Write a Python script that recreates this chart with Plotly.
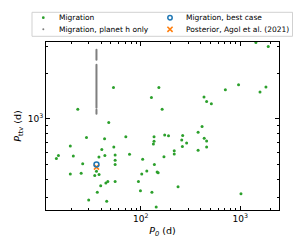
import plotly.graph_objects as go

# ---------------- data ----------------
P0_migration = [
    23.3, 53.2, 47.7, 128, 152, 164, 432, 459, 512, 708, 961, 1435, 1578, 1811, 1910,
    28.5, 43.3, 70.8, 19.6, 40.6, 53.6, 14.9, 14.2, 21.0, 38.0, 43.6, 55.3, 55.3, 77.1,
    26.1, 55.3, 19.6, 25.2, 34.5, 35.9, 38.1, 44.6, 46.7, 55.3, 39.6, 36.6, 30.0, 45.5,
    104.5, 136, 136, 134, 137, 174, 190, 171, 217, 217, 258, 264, 262, 289, 377, 413,
    434, 459, 459, 377, 102.3, 115, 146, 149.5, 94.8, 99.3, 129.5, 237, 143, 1016,
]
Pttv_migration = [
    1158, 1618, 949, 1390, 1618, 1158, 1399, 1308, 1262, 1563, 1687, 3214, 1510, 1629, 3027,
    755, 741, 764, 662, 627, 653, 572, 548, 569, 560, 572, 578, 532, 583,
    506, 500, 432, 437, 423, 450, 428, 376, 385, 385, 361, 327, 291, 285,
    540, 764, 711, 682, 500, 783, 773, 562, 616, 586, 726, 778, 656, 693, 818, 893,
    744, 715, 653, 621, 432, 453, 446, 441, 386, 334, 327, 355, 261, 320,
]

P0_h_only = 35.9
Pttv_h_only = [
    2876, 2833, 2791, 2749, 2707, 2666, 2626, 2586, 2547, 2508, 2470,
    2288, 2254, 2220, 2186, 2153, 2121, 2089, 2057, 2026, 1995, 1965, 1936, 1906,
    1877, 1849, 1821, 1793, 1766, 1740, 1713, 1688, 1662, 1637, 1612, 1588, 1563,
    1540, 1516, 1494, 1471, 1449, 1427, 1405, 1384, 1363, 1342, 1322, 1302, 1282,
    1263, 1244, 1225, 1206, 1188, 1152, 1135, 1118, 1101, 1084,
]

P0_best = [35.9]
Pttv_best = [500]
P0_agol = [35.9]
Pttv_agol = [480]

x_major = [100, 1000]
x_major_text = ["10<sup>2</sup>", "10<sup>3</sup>"]
y_major = [1000]
y_major_text = ["10<sup>3</sup>"]
x_minor = [20, 30, 40, 50, 60, 70, 80, 90, 200, 300, 400, 500, 600, 700, 800, 900, 2000]
y_minor = [300, 400, 500, 600, 700, 800, 900, 2000, 3000]

legend_labels = ["Migration", "Migration, planet h only",
                 "Migration, best case", "Posterior, Agol et al. (2021)"]

# ---------------- styling ----------------
GREEN = "#2ca02c"
GRAY = "#7f7f7f"
BLUE = "#1f77b4"
ORANGE = "#ff7f0e"
FONT = "DejaVu Sans"

W, H = 300, 250
L, R, T, B = 46, 21, 42, 40
PW, PH = W - L - R, H - T - B


def px(xp):
    return (xp - L) / PW


def py(yp):
    return (H - B - yp) / PH


fig = go.Figure()
fig.add_trace(go.Scatter(x=P0_migration, y=Pttv_migration, mode="markers",
                         marker=dict(color=GREEN, size=3, line=dict(width=0)),
                         showlegend=False))
fig.add_trace(go.Scatter(x=[P0_h_only] * len(Pttv_h_only), y=Pttv_h_only, mode="markers",
                         marker=dict(color=GRAY, size=2, line=dict(width=0)),
                         showlegend=False))
fig.add_trace(go.Scatter(x=P0_agol, y=Pttv_agol, mode="markers",
                         marker=dict(symbol="x-thin", size=5, line=dict(color=ORANGE, width=1.6)),
                         showlegend=False))
fig.add_trace(go.Scatter(x=P0_best, y=Pttv_best, mode="markers",
                         marker=dict(symbol="circle-open", size=5, color=BLUE,
                                     line=dict(color=BLUE, width=1.5)),
                         showlegend=False))

axis_common = dict(type="log", showgrid=False, zeroline=False, showline=True, automargin=False,
                   linecolor="black", linewidth=1.1, mirror="ticks", ticks="inside",
                   ticklen=3.5, tickwidth=0.9, tickcolor="black", tickmode="array",
                   tickfont=dict(family=FONT, size=9, color="black"))

fig.update_xaxes(**axis_common, range=[1.048, 3.389], tickvals=x_major, ticktext=x_major_text,
                 minor=dict(tickvals=x_minor, ticks="inside", ticklen=2, tickwidth=0.7,
                            tickcolor="black"),
                 title=dict(text="<i>P</i><sub><i>0</i></sub> (d)",
                            font=dict(family=FONT, size=9.5, color="black"), standoff=4))
fig.update_yaxes(**axis_common, range=[2.397, 3.510], tickvals=y_major, ticktext=y_major_text,
                 minor=dict(tickvals=y_minor, ticks="inside", ticklen=2, tickwidth=0.7,
                            tickcolor="black"),
                 title=dict(text="<i>P</i><sub>ttv</sub> (d)",
                            font=dict(family=FONT, size=9.5, color="black"), standoff=4))

# ---------------- legend (drawn manually, matplotlib style) ----------------
shapes = [
    dict(type="rect", xref="paper", yref="paper", x0=px(32), x1=px(292.5), y0=py(36.3), y1=py(12.3),
         line=dict(color="#cccccc", width=0.9), fillcolor="white", layer="above"),
    dict(type="circle", xref="paper", yref="paper", xsizemode="pixel", ysizemode="pixel",
         xanchor=px(43.3), yanchor=py(17.7), x0=-1.4, x1=1.4, y0=-1.4, y1=1.4,
         fillcolor=GREEN, line=dict(width=0), layer="above"),
    dict(type="circle", xref="paper", yref="paper", xsizemode="pixel", ysizemode="pixel",
         xanchor=px(43.3), yanchor=py(29.3), x0=-1.0, x1=1.0, y0=-1.0, y1=1.0,
         fillcolor=GRAY, line=dict(width=0), layer="above"),
    dict(type="circle", xref="paper", yref="paper", xsizemode="pixel", ysizemode="pixel",
         xanchor=px(170), yanchor=py(17.7), x0=-2.2, x1=2.2, y0=-2.2, y1=2.2,
         fillcolor="rgba(0,0,0,0)", line=dict(color=BLUE, width=1.5), layer="above"),
    dict(type="path", xref="paper", yref="paper", xsizemode="pixel", ysizemode="pixel",
         xanchor=px(170), yanchor=py(29.3),
         path="M -2.6 -2.6 L 2.6 2.6 M -2.6 2.6 L 2.6 -2.6",
         line=dict(color=ORANGE, width=1.6), layer="above"),
]
annotations = []
for text, xp_, yp_ in [(legend_labels[0], 56.7, 17.7), (legend_labels[1], 56.7, 29.3),
                       (legend_labels[2], 184, 17.7), (legend_labels[3], 184, 29.3)]:
    annotations.append(dict(text=text, xref="paper", yref="paper", x=px(xp_), y=py(yp_),
                            xanchor="left", yanchor="middle", showarrow=False,
                            font=dict(family=FONT, size=7.5, color="black")))

fig.update_layout(width=W, height=H, margin=dict(l=L, r=R, t=T, b=B, autoexpand=False),
                  paper_bgcolor="white", plot_bgcolor="white", showlegend=False,
                  font=dict(family=FONT, color="black"),
                  shapes=shapes, annotations=annotations)

fig.write_html("out.html", config={"displayModeBar": False},
               post_script="document.body.style.margin='0';document.body.style.padding='0';")
